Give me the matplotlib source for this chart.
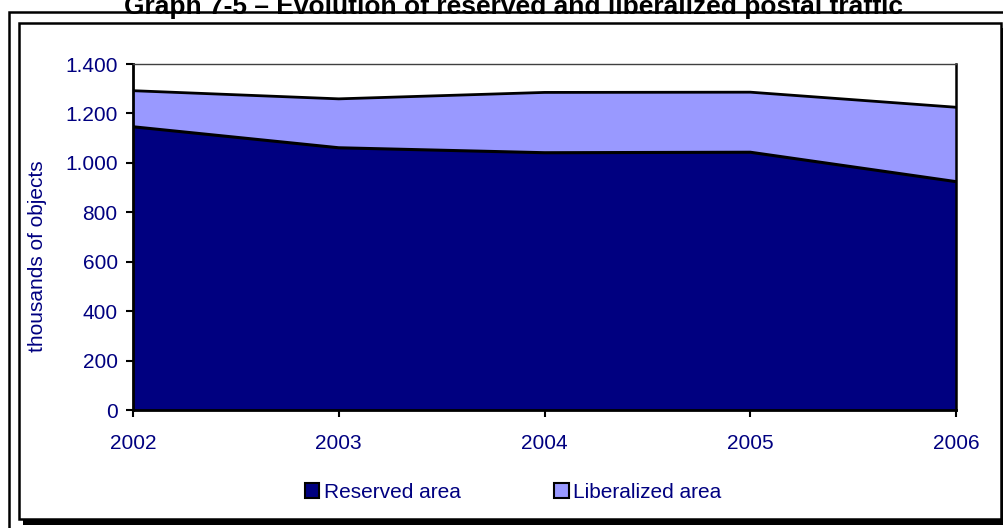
import matplotlib
matplotlib.use("Agg")
import matplotlib.pyplot as plt
from matplotlib.patches import Rectangle
from matplotlib.ticker import FuncFormatter

years = [2002, 2003, 2004, 2005, 2006]
reserved = [1146, 1061, 1041, 1043, 924]
liberalized = [146, 198, 244, 243, 301]
y_ticks = [0, 200, 400, 600, 800, 1000, 1200, 1400]

title = "Graph 7-5 \u2013 Evolution of reserved and liberalized postal traffic"
y_label = "thousands of objects"
series_names = ["Reserved area", "Liberalized area"]

NAVY = "#000080"
LIGHT = "#9999FF"

W, H = 1004, 528
plt.rcParams["font.family"] = ["Liberation Sans", "DejaVu Sans"]

fig = plt.figure(figsize=(W / 100, H / 100), dpi=100)


def fx(px):
    return px / W


def fy(py):
    return 1 - py / H


# outer frame
fig.patches.append(Rectangle((fx(9), fy(560)), fx(1100) - fx(9), fy(12) - fy(560),
                             transform=fig.transFigure, fill=False,
                             edgecolor="black", linewidth=1.8, zorder=0))
# chart box with drop shadow
fig.patches.append(Rectangle((fx(23), fy(525)), fx(1004) - fx(23), fy(28) - fy(525),
                             transform=fig.transFigure, facecolor="black",
                             edgecolor="none", zorder=0))
fig.patches.append(Rectangle((fx(19), fy(519)), fx(1001) - fx(19), fy(23) - fy(519),
                             transform=fig.transFigure, facecolor="white",
                             edgecolor="black", linewidth=1.8, zorder=0.5))

ax = fig.add_axes([fx(133), fy(410), fx(956) - fx(133), fy(64) - fy(410)])
ax.set_zorder(2)
ax.patch.set_alpha(0)

total = [r + l for r, l in zip(reserved, liberalized)]
ax.fill_between(years, 0, reserved, color=NAVY, linewidth=0)
ax.fill_between(years, reserved, total, color=LIGHT, linewidth=0)
ax.plot(years, reserved, color="black", linewidth=2.2, solid_joinstyle="miter")
ax.plot(years, total, color="black", linewidth=2.0, solid_joinstyle="miter")

ax.set_xlim(years[0], years[-1])
ax.set_ylim(0, 1400)
ax.set_xticks(years)
ax.set_yticks(y_ticks)
ax.yaxis.set_major_formatter(FuncFormatter(lambda v, p: f"{int(v):,}".replace(",", ".")))

for side in ("left", "bottom"):
    ax.spines[side].set_linewidth(2.0)
    ax.spines[side].set_color("black")
ax.spines["top"].set_linewidth(1.0)
ax.spines["top"].set_color("#404040")
ax.spines["right"].set_linewidth(1.8)
ax.spines["right"].set_color("black")

ax.tick_params(axis="y", direction="out", length=5, width=1.5, pad=6,
               labelsize=15, labelcolor=NAVY, color="black")
ax.tick_params(axis="x", direction="out", length=5, width=1.5, pad=12,
               labelsize=15, labelcolor=NAVY, color="black")

fig.text(fx(38), fy(256), y_label, rotation=90, ha="center", va="center",
         color=NAVY, fontsize=15)

fig.text(fx(514), fy(14), title, ha="center", va="baseline",
         fontsize=19, fontweight="bold", color="black")

leg = fig.legend(handles=[Rectangle((0, 0), 1, 1, facecolor=NAVY, edgecolor="black", linewidth=1.5),
                          Rectangle((0, 0), 1, 1, facecolor=LIGHT, edgecolor="black", linewidth=1.5)],
                 labels=series_names, loc="center", bbox_to_anchor=(fx(513), fy(492)),
                 ncol=2, frameon=False, fontsize=15, handlelength=0.7, handleheight=0.7,
                 handletextpad=0.2, columnspacing=4.5, borderpad=0)
for t in leg.get_texts():
    t.set_color(NAVY)

fig.savefig("out.png", dpi=100)
